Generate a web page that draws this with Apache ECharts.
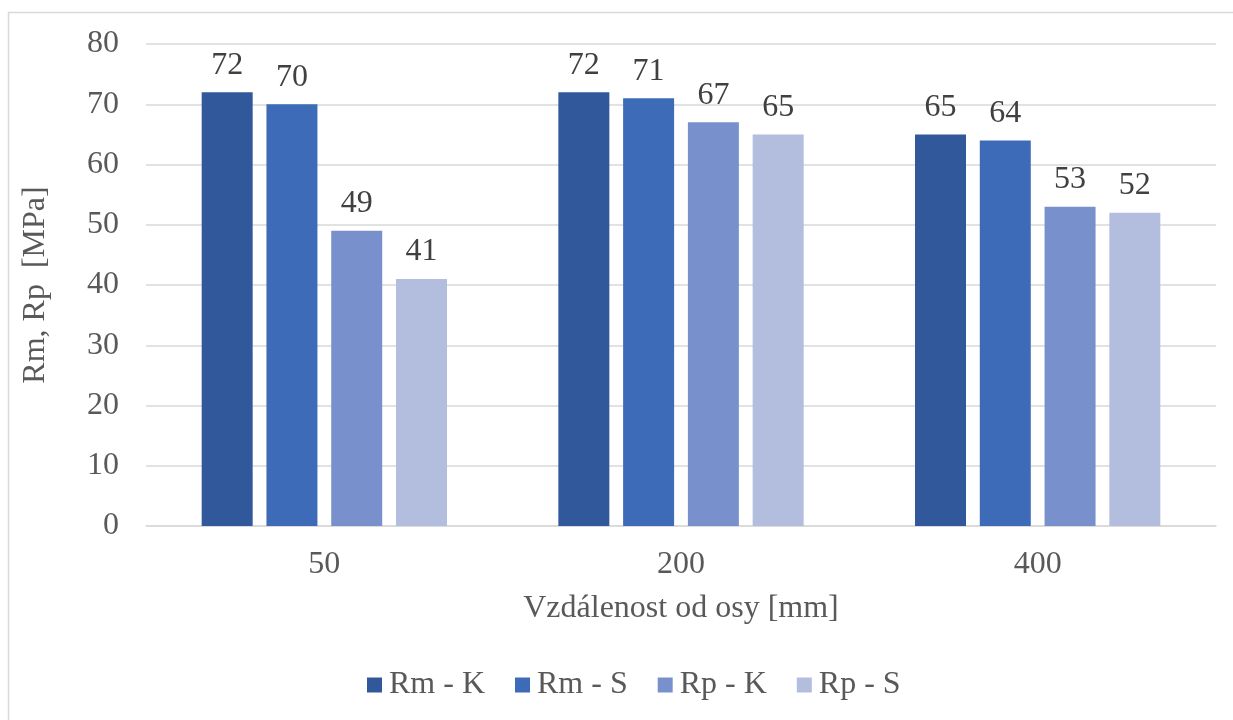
<!DOCTYPE html>
<html><head><meta charset="utf-8">
<script src="https://cdn.jsdelivr.net/npm/echarts@6/dist/echarts.min.js"></script>
<style>html,body{margin:0;padding:0;background:#fff}#c{width:1233px;height:720px}</style>
</head><body><div id="c"></div>
<script>
const categories = ['50', '200', '400'];
const seriesNames = ['Rm - K', 'Rm - S', 'Rp - K', 'Rp - S'];
const rmK = [72, 72, 65];
const rmS = [70, 71, 64];
const rpK = [49, 67, 53];
const rpS = [41, 65, 52];
const colors = ['#30589A', '#3E6BB8', '#7891CD', '#B3BEDF'];
const values = [rmK, rmS, rpK, rpS];

const font = '"Liberation Serif", "Times New Roman", serif';
const txt = '#595959';
const chart = echarts.init(document.getElementById('c'));
chart.setOption({
  animation: false,
  textStyle: { fontFamily: font },
  graphic: [{ type: 'rect', shape: { x: 8.5, y: 12.5, width: 1240, height: 720 }, style: { fill: 'none', stroke: '#d9d9d9', lineWidth: 1.5 }, silent: true }],
  grid: { left: 146, right: 17, top: 44, bottom: 194, containLabel: false },
  legend: {
    bottom: 14, left: 362, itemWidth: 15, itemHeight: 15, itemGap: 30,
    icon: 'rect',
    textStyle: { fontFamily: font, fontSize: 32, color: txt, padding: [0, 0, 0, 2] },
    data: seriesNames
  },
  xAxis: {
    type: 'category', data: categories,
    name: 'Vzdálenost od osy [mm]', nameLocation: 'middle', nameGap: 67,
    nameTextStyle: { fontFamily: font, fontSize: 32, color: txt },
    axisLine: { lineStyle: { color: '#d9d9d9', width: 1.5 } },
    axisTick: { show: false },
    axisLabel: { fontFamily: font, fontSize: 32, color: txt, margin: 23 }
  },
  yAxis: {
    type: 'value', min: 0, max: 80, interval: 10,
    name: 'Rm, Rp  [MPa]', nameLocation: 'middle', nameGap: 94,
    nameTextStyle: { fontFamily: font, fontSize: 32, color: txt },
    axisLine: { show: false }, axisTick: { show: false },
    axisLabel: { fontFamily: font, fontSize: 32, color: txt, margin: 27 },
    splitLine: { lineStyle: { color: '#d9d9d9', width: 1.5 } }
  },
  series: seriesNames.map((n, i) => ({
    name: n, type: 'bar', data: values[i], barWidth: 51, barGap: '27%',
    itemStyle: { color: colors[i] },
    label: { show: true, position: 'top', distance: 11, fontFamily: font, fontSize: 32, color: '#404040' }
  }))
});
</script></body></html>
